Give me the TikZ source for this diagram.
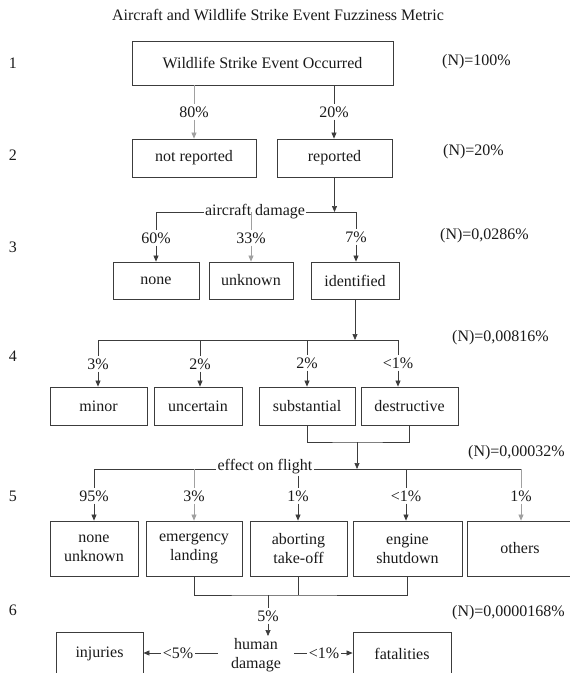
\documentclass[tikz,border=0pt]{standalone}
\usepackage{fontspec}
\setmainfont{Liberation Serif}
\newfontfamily\diagfont{Liberation Serif}
\usetikzlibrary{arrows.meta}
\definecolor{linedark}{HTML}{3C3C3C}
\definecolor{linelight}{HTML}{A0A0A0}
\definecolor{textmain}{HTML}{1A1A1A}
\tikzset{every node/.append style={font=\diagfont\fontsize{16}{19}\selectfont,text=textmain}}

\begin{document}
\begin{tikzpicture}[x=1pt,y=-1pt,>={Triangle[length=6pt,width=5pt]},
  box/.style={draw=linedark,line width=0.8pt,inner sep=0pt,align=center},
  pct/.style={inner sep=2pt},
  total/.style={anchor=west,inner sep=0pt},
  link/.style={draw=linedark,line width=0.7pt},
  faint/.style={draw=linelight,line width=0.7pt}]
  \useasboundingbox (0,0) rectangle (570,673);
  \node (title) at (278,15) {Aircraft and Wildlife Strike Event Fuzziness Metric};
  \node (r1) at (13,63) {1};
  \node (r2) at (13,155) {2};
  \node (r3) at (13,247) {3};
  \node (r4) at (13,356) {4};
  \node (r5) at (13,496) {5};
  \node (r6) at (13,610) {6};
  \node[total] (n1) at (442,62) {(N)=100\%};
  \node[total] (n2) at (443,152) {(N)=20\%};
  \node[total] (n3) at (440,236) {(N)=0,0286\%};
  \node[total] (n4) at (452,338) {(N)=0,00816\%};
  \node[total] (n5) at (468,453) {(N)=0,00032\%};
  \node[total] (n6) at (452,613) {(N)=0,0000168\%};

  \node[box,minimum width=261pt,minimum height=44pt] (event) at (262.5,63) {Wildlife Strike Event Occurred};
  \node[box,minimum width=124pt,minimum height=38pt] (notrep) at (194,158) {not reported};
  \node[box,minimum width=115pt,minimum height=38pt] (rep) at (334.5,158) {reported};
  \node[pct] (p80) at (194,112) {80\%};
  \node[pct] (p20) at (334,112) {20\%};
  \draw[faint] (p80 |- event.south) -- (p80);
  \draw[faint,->] (p80) -- (p80 |- notrep.north);
  \draw[link] (p20 |- event.south) -- (p20);
  \draw[link,->] (p20) -- (p20 |- rep.north);

  \coordinate (b3l) at (156,212);
  \coordinate (b3r) at (356,212);
  \node[inner sep=1pt] (dmg) at (255,212) {aircraft damage};
  \draw[link,->] (rep) -- (rep |- b3l);
  \draw[link] (b3l) -- (dmg.west);
  \draw[link] (dmg.east) -- (b3r);
  \node[box,minimum width=86pt,minimum height=37pt] (none) at (156,280.5) {none};
  \node[box,minimum width=84pt,minimum height=37pt] (unknown) at (251,280.5) {unknown};
  \node[box,minimum width=88pt,minimum height=37pt] (identified) at (355,280.5) {identified};
  \node[pct] (p60) at (156,238) {60\%};
  \node[pct] (p33) at (251,238) {33\%};
  \node[pct] (p7) at (356,237) {7\%};
  \draw[link] (b3l) -- (p60);
  \draw[link,->] (p60) -- (p60 |- none.north);
  \draw[faint] (p33 |- b3l) -- (p33);
  \draw[faint,->] (p33) -- (p33 |- unknown.north);
  \draw[link] (b3r) -- (p7);
  \draw[link,->] (p7) -- (p7 |- identified.north);

  \coordinate (b4l) at (98,340);
  \coordinate (b4r) at (398,340);
  \draw[link,->] (identified) -- (identified |- b4l);
  \draw[link] (b4l) -- (b4r);
  \node[box,minimum width=97pt,minimum height=38pt] (minor) at (98.5,406) {minor};
  \node[box,minimum width=88pt,minimum height=38pt] (uncertain) at (198,406) {uncertain};
  \node[box,minimum width=96pt,minimum height=38pt] (substantial) at (307,406) {substantial};
  \node[box,minimum width=97pt,minimum height=38pt] (destructive) at (409.5,406) {destructive};
  \node[pct] (p3a) at (98,364) {3\%};
  \node[pct] (p2a) at (200,364) {2\%};
  \node[pct] (p2b) at (307,363) {2\%};
  \node[pct] (p1a) at (398,363) {<1\%};
  \draw[link] (b4l) -- (p3a);
  \draw[link,->] (p3a) -- (p3a |- minor.north);
  \draw[link] (p2a |- b4l) -- (p2a);
  \draw[link,->] (p2a) -- (p2a |- uncertain.north);
  \draw[link] (p2b |- b4l) -- (p2b);
  \draw[link,->] (p2b) -- (p2b |- substantial.north);
  \draw[link] (b4r) -- (p1a);
  \draw[link,->] (p1a) -- (p1a |- destructive.north);

  \coordinate (m45) at (357,442);
  \coordinate (b5l) at (94,469);
  \coordinate (b5r) at (521,469);
  \draw[link] (substantial) |- (m45) -| (destructive);
  \draw[link,->] (m45) -- (m45 |- b5l);
  \node[inner sep=1pt] (flt) at (265,467) {effect on flight};
  \draw[link] (b5l) -- (flt.west |- b5l);
  \draw[link] (flt.east |- b5l) -- (b5r);
  \node[box,minimum width=88pt,minimum height=55pt] (noneunk) at (94,548.5) {none\\unknown};
  \node[box,minimum width=96pt,minimum height=55pt] (emerg) at (194,548.5) {emergency\\landing};
  \node[box,minimum width=97pt,minimum height=55pt] (abort) at (298.5,548.5) {aborting\\take-off};
  \node[box,minimum width=109pt,minimum height=55pt] (engine) at (407.5,548.5) {engine\\shutdown};
  \node[box,minimum width=106pt,minimum height=55pt] (others) at (520,548.5) {others};
  \node[pct] (p95) at (94,496) {95\%};
  \node[pct] (p3b) at (194,496) {3\%};
  \node[pct] (p1b) at (298,496) {1\%};
  \node[pct] (p1c) at (406,496) {<1\%};
  \node[pct] (p1d) at (521,496) {1\%};
  \draw[link] (b5l) -- (p95);
  \draw[link,->] (p95) -- (p95 |- noneunk.north);
  \draw[faint] (p3b |- b5l) -- (p3b);
  \draw[faint,->] (p3b) -- (p3b |- emerg.north);
  \draw[link] (p1b |- flt.south) -- (p1b);
  \draw[link,->] (p1b) -- (p1b |- abort.north);
  \draw[link] (p1c |- b5l) -- (p1c);
  \draw[link,->] (p1c) -- (p1c |- engine.north);
  \draw[faint] (b5r) -- (p1d);
  \draw[faint,->] (p1d) -- (p1d |- others.north);

  \coordinate (m56) at (268,595);
  \draw[link] (emerg) |- (m56) -| (engine);
  \draw[link] (abort) -- (abort |- m56);
  \node[pct] (p5) at (268,616) {5\%};
  \draw[link] (m56) -- (p5);
  \node[inner xsep=13pt,inner ysep=2pt,align=center] (hd) at (256,655) {human\\damage};
  \draw[link,->] (p5) -- (p5 |- hd.north);
  \node[box,minimum width=87pt,minimum height=43pt] (injuries) at (99.5,653.5) {injuries};
  \node[box,minimum width=98pt,minimum height=43pt] (fatalities) at (402,653.5) {fatalities};
  \node[pct] (pinj) at (178,653) {<5\%};
  \node[pct] (pfat) at (324,653) {<1\%};
  \draw[link] (hd.west |- pinj) -- (pinj);
  \draw[link,->] (pinj) -- (pinj -| injuries.east);
  \draw[link] (hd.east |- pfat) -- (pfat);
  \draw[link,->] (pfat) -- (pfat -| fatalities.west);
\end{tikzpicture}
\end{document}
